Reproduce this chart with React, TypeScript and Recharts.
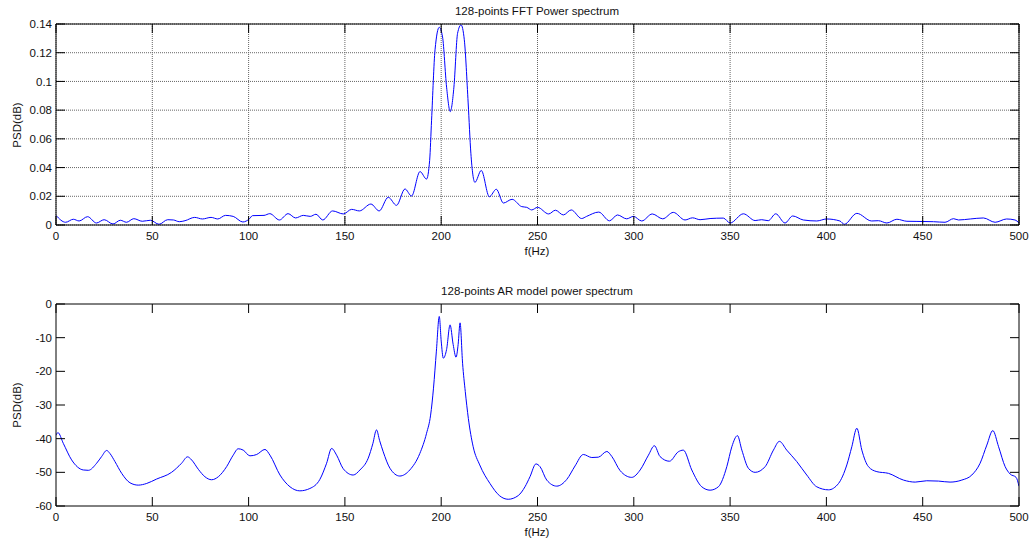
import React from 'react';
import { LineChart, Line, XAxis, YAxis, CartesianGrid } from 'recharts';

// 128-point FFT power spectrum (top panel)
const fftFreq = [
  0, 5, 9, 12, 16.4, 21, 25, 29.6, 33.4, 36.6, 40.4, 44.8, 49, 53.5, 58, 61, 64, 67, 72, 76,
  80.5, 84, 88, 92, 97, 100.5, 102, 108, 111, 116, 120.5, 124.4, 128.4, 132, 135, 138.5, 143.6, 149.2, 153.5, 157.5,
  163.5, 167.8, 172.5, 176.8, 181.2, 184.6, 189, 192.4, 194, 195, 196.8, 199, 200.7, 202.8, 204.7, 206.6, 208.5, 210.3, 212, 214,
  215.4, 217.5, 220.8, 225, 228.6, 232.3, 236.8, 241.8, 244.4, 247, 250, 255.8, 259.3, 263.4, 267.5, 272.9, 275.5, 281.8, 287.4, 291.5,
  296.3, 299.8, 304.1, 309.6, 315, 320.5, 326.6, 330.5, 334.4, 339.6, 346.5, 350, 356.9, 363, 366.4, 369.8, 373.7, 378.5, 382.5, 388,
  395, 400.1, 407, 409.3, 415.8, 423.5, 427, 431.4, 436.6, 441.8, 447, 455.6, 461.6, 466, 468.6, 474.7, 481.5, 487.6, 493.6, 497.9, 500,
];
const fftPsd = [
  0.0067, 0.0019, 0.004, 0.0028, 0.0058, 0.0014, 0.0037, 0.0007, 0.0033, 0.0019, 0.0044, 0.0026, 0.0033, 0.0005, 0.0037, 0.0035, 0.0023, 0.003, 0.0053, 0.0042,
  0.0053, 0.0042, 0.0067, 0.006, 0.0021, 0.0044, 0.0065, 0.0067, 0.0079, 0.0035, 0.0079, 0.0049, 0.0067, 0.006, 0.0075, 0.0035, 0.0098, 0.0077, 0.0109, 0.0098,
  0.0146, 0.0098, 0.0193, 0.0137, 0.0251, 0.0202, 0.0372, 0.032, 0.045, 0.073, 0.122, 0.1377, 0.131, 0.096, 0.079, 0.096, 0.1335, 0.1394, 0.129, 0.085,
  0.05, 0.0297, 0.038, 0.0197, 0.0249, 0.0153, 0.0179, 0.0128, 0.0123, 0.0105, 0.0123, 0.0077, 0.0103, 0.007, 0.0105, 0.0045, 0.006, 0.009, 0.0029, 0.007,
  0.0043, 0.006, 0.0028, 0.0077, 0.0043, 0.0088, 0.0035, 0.005, 0.0037, 0.0045, 0.0048, 0.0014, 0.0078, 0.0031, 0.0037, 0.003, 0.0078, 0.0014, 0.0063, 0.0035,
  0.0028, 0.0042, 0.0028, 0.0005, 0.0081, 0.0028, 0.003, 0.0014, 0.004, 0.0026, 0.0025, 0.0023, 0.0019, 0.0044, 0.0035, 0.0042, 0.0049, 0.0019, 0.0042, 0.0035, 0.0014,
];

// 128-point AR model power spectrum (bottom panel)
const arFreq = [
  0, 1, 3.8, 8.1, 14.2, 16.8, 21.1, 23.7, 26.3, 28, 30.6, 34.1, 38.4, 42.7, 47.1, 52.2, 60, 65.2, 68.3, 70.4,
  73.9, 77.3, 80.8, 84.3, 88.6, 92, 94.6, 97.2, 100.7, 104.2, 108.5, 111.1, 116.3, 121.5, 126.6, 131.8, 137, 140.5, 143.1, 145.7,
  149.1, 154.3, 157.8, 162.1, 164.5, 166.4, 168, 169.9, 173.4, 178.5, 183.7, 188.9, 192.4, 194.5, 196, 197.5, 199, 200, 201.1, 202.8,
  204.6, 206.2, 207.7, 208.8, 209.8, 211.1, 212.5, 214.1, 216.6, 220, 225.3, 230.4, 234.8, 240, 243.5, 246.1, 249.2, 251.3, 254.8, 260,
  265.2, 269.5, 273.8, 278.2, 281.6, 286, 288.6, 292.9, 298.9, 303.3, 307.6, 310.7, 313.6, 318.5, 323.1, 325.7, 330.1, 335.3, 339.6, 343.9,
  348.3, 350.9, 353.8, 356.1, 359.5, 363, 368.2, 372.5, 375.6, 379.4, 384.6, 389.8, 395, 401.1, 406.3, 410.6, 413.2, 415.8, 418.4, 421.8,
  426.2, 432.2, 440, 446.1, 452.1, 458.2, 464.2, 470.3, 475.5, 479.8, 483.3, 486.4, 489.4, 492.8, 495.4, 498.5, 500,
];
const arPsd = [
  -39, -38.2, -41.4, -46.3, -49.3, -49.4, -47.3, -45.3, -43.5, -44.4, -46.8, -50.3, -53.1, -53.8, -53.3, -52, -50, -47.3, -45.4, -46.3,
  -49.1, -51.3, -52.2, -51.3, -48.3, -44.9, -43, -43.4, -45.1, -44.7, -43.2, -44.9, -50.8, -54.3, -55.5, -54.8, -52.1, -47.3, -42.9, -44.9,
  -48.9, -50.8, -49.3, -45.8, -41.5, -37.4, -40.5, -43.9, -48.8, -51.1, -49.3, -44.4, -38.4, -33, -25, -14, -3.7, -11, -16.1, -13.5,
  -6.2, -12, -15.8, -12, -5.6, -17.6, -26, -34, -42.4, -47.8, -53.3, -57, -58, -56.9, -54.3, -51.3, -47.5, -48.3, -52.3, -54.1,
  -52.1, -48.1, -44.7, -45.6, -45.5, -43.8, -45.3, -49.5, -51.5, -49.3, -44.9, -42.1, -45.3, -46.7, -43.9, -43.4, -49.3, -54.3, -55.3, -54.3,
  -48.3, -42.4, -39.1, -43.4, -48.8, -50, -48.3, -43.4, -40.8, -43.4, -46.8, -50.8, -54.3, -55.2, -53.3, -47.8, -42.4, -36.9, -43.4, -48.3,
  -49.8, -50.3, -52.3, -52.9, -52.5, -52.6, -52.9, -52.3, -50.8, -47.3, -41.9, -37.6, -42.4, -48.3, -50.5, -51.5, -54.1,
];

const freqTicks = [0, 50, 100, 150, 200, 250, 300, 350, 400, 450, 500];
const fftTicks = [0, 0.02, 0.04, 0.06, 0.08, 0.1, 0.12, 0.14];
const arTicks = [-60, -50, -40, -30, -20, -10, 0];

const fftData = fftFreq.map((f, i) => ({ f, v: fftPsd[i] }));
const arData = arFreq.map((f, i) => ({ f, v: arPsd[i] }));

const FONT = '"Liberation Sans", Arial, Helvetica, sans-serif';
const tickStyle = { fontSize: 11.5, fill: '#111', fontFamily: FONT };
const black = { stroke: '#000' };
const blank = () => '';

const textStyle: React.CSSProperties = {
  position: 'absolute',
  fontFamily: FONT,
  fontSize: 11.5,
  lineHeight: '14px',
  color: '#111',
  whiteSpace: 'nowrap',
  textAlign: 'center',
};

interface PanelProps {
  data: { f: number; v: number }[];
  yTicks: number[];
  yDomain: [number, number];
  topH: number;
  bottomH: number;
  grid: boolean;
}

const Panel = ({ data, yTicks, yDomain, topH, bottomH, grid }: PanelProps) => (
  <LineChart width={1031} height={270} data={data} margin={{ top: 0, right: 0, bottom: 0, left: 0 }}>
    {grid && (
      <CartesianGrid xAxisId="b" yAxisId="l" stroke="#666" strokeDasharray="1 1" horizontal vertical />
    )}
    <XAxis
      xAxisId="b"
      dataKey="f"
      type="number"
      domain={[0, 500]}
      ticks={freqTicks}
      height={bottomH}
      tickSize={-9}
      tickMargin={16}
      tick={tickStyle}
      tickLine={black}
      axisLine={black}
      allowDataOverflow
    />
    <XAxis
      xAxisId="t"
      orientation="top"
      dataKey="f"
      type="number"
      domain={[0, 500]}
      ticks={freqTicks}
      height={topH}
      tickSize={-9}
      tickFormatter={blank}
      tickLine={black}
      axisLine={black}
      allowDataOverflow
    />
    <YAxis
      yAxisId="l"
      type="number"
      domain={yDomain}
      ticks={yTicks}
      width={56}
      tickSize={-9}
      tickMargin={13}
      tick={tickStyle}
      tickLine={black}
      axisLine={black}
      allowDataOverflow
    />
    <YAxis
      yAxisId="r"
      orientation="right"
      type="number"
      domain={yDomain}
      ticks={yTicks}
      width={12}
      tickSize={-9}
      tickFormatter={blank}
      tickLine={black}
      axisLine={black}
      allowDataOverflow
    />
    <Line
      xAxisId="b"
      yAxisId="l"
      dataKey="v"
      type="monotone"
      stroke="#0000ff"
      strokeWidth={1}
      dot={false}
      activeDot={false}
      isAnimationActive={false}
    />
  </LineChart>
);

export default function App() {
  return (
    <div style={{ position: 'absolute', left: 0, top: 0, width: 1031, height: 540, background: '#fff' }}>
      <div style={{ position: 'absolute', left: 0, top: 0 }}>
        <Panel data={fftData} yTicks={fftTicks} yDomain={[0, 0.14]} topH={24} bottomH={45} grid />
      </div>
      <div style={{ position: 'absolute', left: 0, top: 270 }}>
        <Panel data={arData} yTicks={arTicks} yDomain={[-60, 0]} topH={34} bottomH={34} grid={false} />
      </div>

      <div style={{ ...textStyle, left: 337, width: 400, top: 4 }}>128-points FFT Power spectrum</div>
      <div style={{ ...textStyle, left: 487, width: 100, top: 244 }}>f(Hz)</div>
      <div style={{ ...textStyle, left: -33, width: 100, top: 118, transform: 'rotate(-90deg)' }}>PSD(dB)</div>

      <div style={{ ...textStyle, left: 337, width: 400, top: 284 }}>128-points AR model power spectrum</div>
      <div style={{ ...textStyle, left: 487, width: 100, top: 525 }}>f(Hz)</div>
      <div style={{ ...textStyle, left: -33, width: 100, top: 398, transform: 'rotate(-90deg)' }}>PSD(dB)</div>
    </div>
  );
}
